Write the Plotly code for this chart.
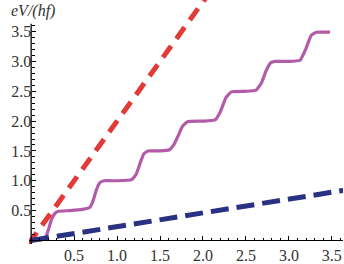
import plotly.graph_objects as go

# Data
red_x = [-0.03, 2.03]
red_y = [-0.06, 4.06]
blue_x = [0.0, 3.64]
blue_y = [0.0, 0.84]
mag_x = [0.0, 0.12, 0.17, 0.20, 0.24, 0.28, 0.32, 0.45, 0.60, 0.68, 0.72, 0.76, 0.80, 0.85,
         1.0, 1.17, 1.22, 1.27, 1.31, 1.36, 1.50, 1.61, 1.66, 1.71, 1.76, 1.82, 2.0, 2.14,
         2.20, 2.27, 2.33, 2.50, 2.62, 2.68, 2.74, 2.79, 2.84, 3.0, 3.13, 3.20, 3.26, 3.32, 3.48]
mag_y = [0.0, 0.01, 0.05, 0.18, 0.36, 0.46, 0.49, 0.50, 0.52, 0.55, 0.66, 0.85, 0.97, 1.00,
         1.00, 1.02, 1.10, 1.30, 1.45, 1.50, 1.50, 1.52, 1.60, 1.75, 1.91, 1.99, 2.00, 2.02,
         2.15, 2.40, 2.49, 2.50, 2.52, 2.64, 2.86, 2.98, 3.00, 3.00, 3.02, 3.22, 3.44, 3.49, 3.49]
tick_vals = [0.5, 1.0, 1.5, 2.0, 2.5, 3.0, 3.5]
tick_text = ["0.5", "1.0", "1.5", "2.0", "2.5", "3.0", "3.5"]
minor_vals = [round(0.1 * i, 1) for i in range(1, 37)]
y_axis_top = 3.63

xr = [-0.025, 3.63]
yr = [-0.06, 4.03]

fig = go.Figure()
fig.add_trace(go.Scatter(x=mag_x, y=mag_y, mode="lines",
                         line=dict(color="#b25ca8", width=3.2, shape="spline", smoothing=0.35)))
fig.add_trace(go.Scatter(x=red_x, y=red_y, mode="lines",
                         line=dict(color="#e23a36", width=5, dash="14px,9px")))
fig.add_trace(go.Scatter(x=blue_x, y=blue_y, mode="lines",
                         line=dict(color="#283182", width=5, dash="18px,8px")))

serif = "Liberation Serif"
fig.update_layout(
    width=344, height=264,
    font=dict(family=serif, size=16, color="#333"),
    margin=dict(l=29, r=1, t=0, b=20),
    paper_bgcolor="white", plot_bgcolor="white",
    showlegend=False,
    xaxis=dict(range=xr, showgrid=False, zeroline=False, showline=True, linecolor="black", linewidth=1.3,
               anchor="free", position=(0 - yr[0]) / (yr[1] - yr[0]),
               ticks="inside", ticklen=4, tickwidth=1, tickcolor="black",
               tickvals=tick_vals, ticktext=tick_text,
               tickfont=dict(family=serif, size=16, color="#333"),
               minor=dict(ticks="inside", ticklen=2.5, tickvals=minor_vals, tickcolor="black", showgrid=False)),
    yaxis=dict(range=yr, showgrid=False, zeroline=False, showline=False,
               anchor="free", position=(0 - xr[0]) / (xr[1] - xr[0]),
               ticks="inside", ticklen=4, tickwidth=1, tickcolor="black",
               tickvals=tick_vals, ticktext=tick_text,
               tickfont=dict(family=serif, size=16, color="#333"),
               minor=dict(ticks="inside", ticklen=2.5, tickvals=minor_vals, tickcolor="black", showgrid=False)),
    shapes=[dict(type="line", xref="x", yref="y", x0=0, x1=0, y0=yr[0], y1=y_axis_top,
                 line=dict(color="black", width=1.3), layer="above")],
    annotations=[dict(text="eV/(hf)", xref="paper", yref="paper", x=-0.065, y=1.0,
                      xanchor="left", yanchor="top", showarrow=False,
                      font=dict(family=serif, size=16, color="#333", style="italic"))],
)
fig.write_html("out.html")
